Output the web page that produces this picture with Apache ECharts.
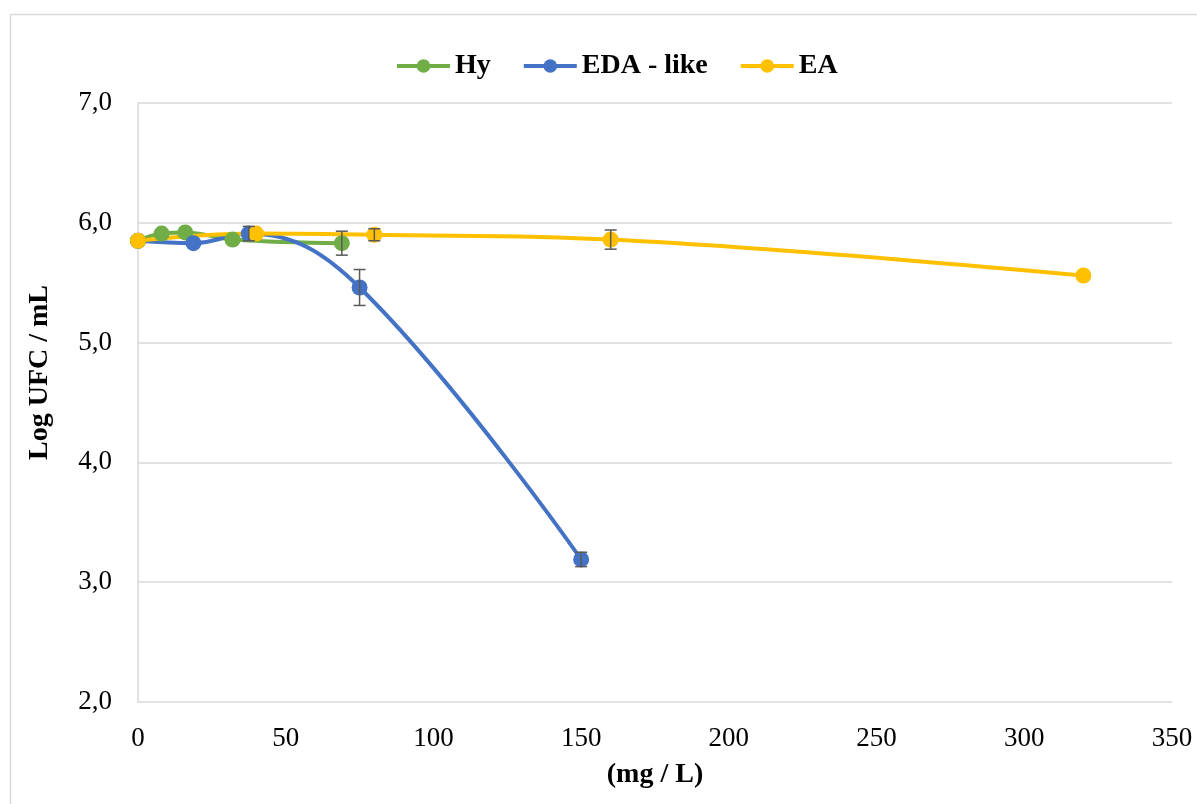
<!DOCTYPE html>
<html>
<head>
<meta charset="utf-8">
<script src="https://cdn.jsdelivr.net/npm/echarts@6/dist/echarts.min.js"></script>
<style>
  html, body { margin: 0; padding: 0; background: #fff; }
  #chart { width: 1197px; height: 804px; }
</style>
</head>
<body>
<div id="chart"></div>
<script>
// concentrations (mg / L) and Log UFC / mL
var hyX = [0, 8, 16, 32, 69];
var hyY = [5.85, 5.91, 5.92, 5.86, 5.83];
var hyErr = [0, 0, 0, 0, 0.1];

var edaX = [0, 18.75, 37.5, 75, 150];
var edaY = [5.85, 5.83, 5.91, 5.46, 3.19];
var edaErr = [0, 0, 0.06, 0.15, 0.06];

var eaX = [0, 40, 80, 160, 320];
var eaY = [5.85, 5.91, 5.90, 5.86, 5.56];
var eaErr = [0, 0, 0.05, 0.08, 0];

var names = ['Hy', 'EDA - like', 'EA'];
var colors = ['#70ad47', '#4472c4', '#ffc000'];

function pairs(xs, ys) {
  return xs.map(function (x, i) { return [x, ys[i]]; });
}
function errRows(xs, ys, es) {
  var out = [];
  for (var i = 0; i < xs.length; i++) {
    if (es[i] > 0) out.push([xs[i], ys[i] - es[i], ys[i] + es[i]]);
  }
  return out;
}

// error bars, drawn as a custom series
function errorSeries(rows) {
  return {
    type: 'custom',
    silent: true,
    z: 5,
    data: rows,
    renderItem: function (params, api) {
      var lo = api.coord([api.value(0), api.value(1)]);
      var hi = api.coord([api.value(0), api.value(2)]);
      var w = 6;
      var st = { stroke: '#595959', lineWidth: 1.5 };
      return {
        type: 'group',
        children: [
          { type: 'line', shape: { x1: lo[0], y1: lo[1], x2: hi[0], y2: hi[1] }, style: st },
          { type: 'line', shape: { x1: lo[0] - w, y1: lo[1], x2: lo[0] + w, y2: lo[1] }, style: st },
          { type: 'line', shape: { x1: hi[0] - w, y1: hi[1], x2: hi[0] + w, y2: hi[1] }, style: st }
        ]
      };
    }
  };
}

function lineSeries(i, xs, ys) {
  return {
    name: names[i],
    type: 'line',
    smooth: 0.4,
    symbol: 'circle',
    symbolSize: 16,
    z: 3,
    itemStyle: { color: colors[i] },
    lineStyle: { color: colors[i], width: 4 },
    data: pairs(xs, ys)
  };
}

var chart = echarts.init(document.getElementById('chart'));
chart.setOption({
  animation: false,
  textStyle: { fontFamily: 'Liberation Serif' },
  graphic: [{
    type: 'rect',
    shape: { x: 10.5, y: 14.5, width: 1220, height: 820 },
    style: { fill: 'none', stroke: '#d9d9d9', lineWidth: 1.5 },
    silent: true
  }],
  legend: {
    data: names,
    top: 47,
    left: 390,
    itemWidth: 53,
    itemHeight: 17,
    itemGap: 31,
    lineStyle: { width: 4 },
    textStyle: { fontFamily: 'Liberation Serif', fontSize: 28, fontWeight: 'bold', color: '#000' }
  },
  grid: { left: 138, right: 25, top: 103, bottom: 102 },
  xAxis: {
    type: 'value',
    min: 0, max: 350, interval: 50,
    name: '(mg / L)',
    nameLocation: 'middle',
    nameGap: 59,
    nameTextStyle: { fontFamily: 'Liberation Serif', fontSize: 28, fontWeight: 'bold', color: '#000' },
    axisLine: { show: false },
    axisTick: { show: false },
    splitLine: { show: false },
    axisLabel: { fontFamily: 'Liberation Serif', fontSize: 27, color: '#000', margin: 23 }
  },
  yAxis: {
    type: 'value',
    min: 2, max: 7, interval: 1,
    name: 'Log UFC / mL',
    nameLocation: 'middle',
    nameGap: 84,
    nameTextStyle: {
      fontFamily: 'Liberation Serif', fontSize: 28, fontWeight: 'bold', color: '#000',
      padding: [0, 0, 0, 60]
    },
    axisLine: { show: true, lineStyle: { color: '#d9d9d9', width: 1.5 } },
    axisTick: { show: false },
    splitLine: { lineStyle: { color: '#d9d9d9', width: 1.5 } },
    axisLabel: {
      fontFamily: 'Liberation Serif', fontSize: 27, color: '#000', margin: 26,
      formatter: function (v) { return v.toFixed(1).replace('.', ','); }
    }
  },
  series: [
    errorSeries(errRows(hyX, hyY, hyErr)),
    errorSeries(errRows(edaX, edaY, edaErr)),
    errorSeries(errRows(eaX, eaY, eaErr)),
    lineSeries(0, hyX, hyY),
    lineSeries(1, edaX, edaY),
    lineSeries(2, eaX, eaY)
  ]
});
</script>
</body>
</html>
